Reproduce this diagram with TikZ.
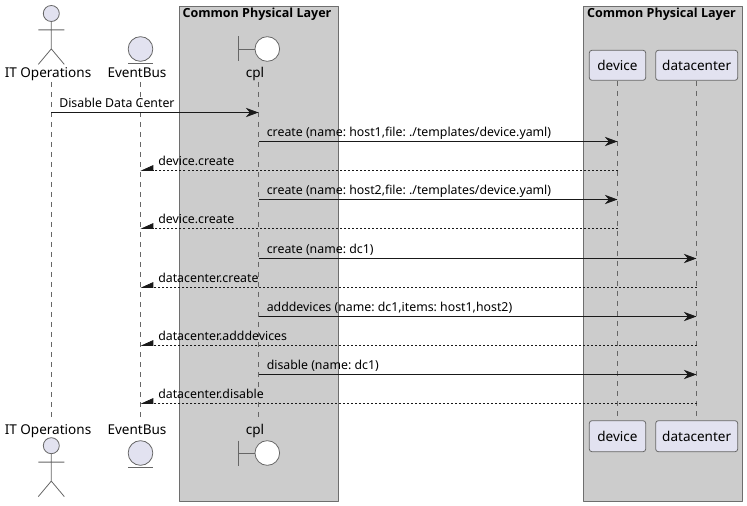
\documentclass[tikz,border=0pt]{standalone}
\usepackage{fontspec}
\setmainfont{Noto Sans}
\newfontfamily\titlefont{Open Sans}
\usetikzlibrary{arrows.meta}
\definecolor{partfill}{HTML}{E2E2F0}
\definecolor{linegray}{HTML}{666666}
\definecolor{boxfill}{HTML}{CCCCCC}
\definecolor{boxline}{HTML}{6E6E6E}
\tikzset{
	layerbox/.style={draw=boxline,fill=boxfill,line width=.75pt},
	layertitle/.style={font=\titlefont\bfseries\fontsize{9.4}{11}\selectfont,inner sep=0pt},
	partbox/.style={draw=linegray,fill=partfill,line width=.6pt,rounded corners=2pt,inner sep=0pt},
	partlabel/.style={font=\fontsize{10.15}{12}\selectfont,inner sep=0pt,anchor=base},
	glyph/.style={draw=linegray,line width=.6pt},
	lifeline/.style={draw=linegray,line width=.5pt,dash pattern=on 3.75pt off 3.75pt},
	msgcall/.style={draw=black!90,line width=.75pt,-{Stealth[length=9.5pt,width=7pt,inset=3pt]}},
	msgreturn/.style={draw=black!90,line width=.5pt,dash pattern=on 1.5pt off 1.5pt,-{Stealth[harpoon,swap,length=9pt,width=8pt,inset=0pt]}},
	msglabel/.style={font=\fontsize{9.25}{11}\selectfont,inner sep=0pt,anchor=base west},
}
\begin{document}
\frenchspacing
\begin{tikzpicture}[x=.75pt,y=-.75pt,line join=round]
	\useasboundingbox (0,0) rectangle (747,506);
	% layer boxes
	\node[layerbox,minimum width=119.25pt,minimum height=371pt,inner sep=0pt] (layerA) at (259,253.75) {};
	\node[layerbox,minimum width=119.25pt,minimum height=371pt,inner sep=0pt] (layerB) at (663,253.75) {};
	\node[layertitle] (titleA) at (257,14) {Common Physical Layer};
	\node[layertitle] (titleB) at (661.5,14) {Common Physical Layer};
	% lifeline ends
	\coordinate (itopsA) at (51,82); \coordinate (itopsB) at (51,420);
	\coordinate (busA) at (140.5,82); \coordinate (busB) at (140.5,420);
	\coordinate (cplA) at (258.5,82); \coordinate (cplB) at (258.5,420);
	\coordinate (deviceA) at (617.5,81); \coordinate (deviceB) at (617.5,420);
	\coordinate (dcA) at (696.5,81); \coordinate (dcB) at (696.5,420);
	\foreach \p in {itops,bus,cpl,device,dc}
		\draw[lifeline] (\p A) -- (\p B);
	% labels
	\foreach \n/\y in {t/78,b/434} {
		\node[partlabel] (itopsLabel\n) at (48,\y) {IT Operations};
		\node[partlabel] (busLabel\n) at (137,\y) {EventBus};
		\node[partlabel] (cplLabel\n) at (255,\y) {cpl};
	}
	\foreach \n/\y/\h in {t/65.3/22.5pt,b/436.2/23.25pt} {
		\node[partbox,minimum width=42.3pt,minimum height=\h] (device\n) at (617.5,\y) {};
		\node[partbox,minimum width=61.5pt,minimum height=\h] (dc\n) at (696.7,\y) {};
		\node[partlabel] (deviceText\n) at ([yshift=-3.6pt]device\n.center) {device};
		\node[partlabel] (dcText\n) at ([yshift=-3.6pt]dc\n.center) {datacenter};
	}
	% actor, entity and boundary glyphs
	\foreach \n/\y in {t/13.5,b/445.7} {
		\node[glyph,fill=partfill,circle,minimum size=12pt,inner sep=0pt] (head\n) at (51.3,\y) {};
		\draw[glyph] (head\n.south) -- ++(0,27) coordinate (hip\n) -- ++(-13,15.5) (hip\n) -- ++(13,15.5) (head\n.south) ++(-13,8) -- ++(26,0);
	}
	\foreach \n/\y in {t/49,b/453} {
		\node[glyph,fill=partfill,circle,minimum size=18.5pt,inner sep=0pt] (bus\n) at (140.5,\y) {};
		\draw[glyph] (bus\n.south) ++(-12.5,1.5) -- ++(25,0);
		\node[glyph,fill=white,circle,minimum size=18.5pt,inner sep=0pt] (cpl\n) at (267.3,\y) {};
		\draw[glyph] (cpl\n.west) -- ++(-16.5,0) ++(0,-12.5) -- ++(0,25);
	}
	% calls and returns
	\foreach \y/\from/\to/\txt in {
		112.5/itops/cpl/{Disable Data Center},
		141.5/cpl/device/{create (name: host1,file: ./templates/device.yaml)},
		199.5/cpl/device/{create (name: host2,file: ./templates/device.yaml)},
		258.5/cpl/dc/{create (name: dc1)},
		316.5/cpl/dc/{adddevices (name: dc1,items: host1,host2)},
		374.5/cpl/dc/{disable (name: dc1)}} {
		\draw[msgcall] (\from A |- 0,\y) -- (\to A |- 0,\y);
		\node[msglabel] (call\y) at ([xshift=6pt,yshift=4pt]\from A |- 0,\y) {\txt};
	}
	\foreach \y/\from/\txt in {
		170.5/device/device.create,
		228.5/device/device.create,
		287.5/dc/datacenter.create,
		345.5/dc/datacenter.adddevices,
		403.5/dc/datacenter.disable} {
		\draw[msgreturn] (\from A |- 0,\y) -- (busA |- 0,\y);
		\node[msglabel] (ret\y) at (158,\y-5) {\txt};
	}
\end{tikzpicture}
\end{document}
